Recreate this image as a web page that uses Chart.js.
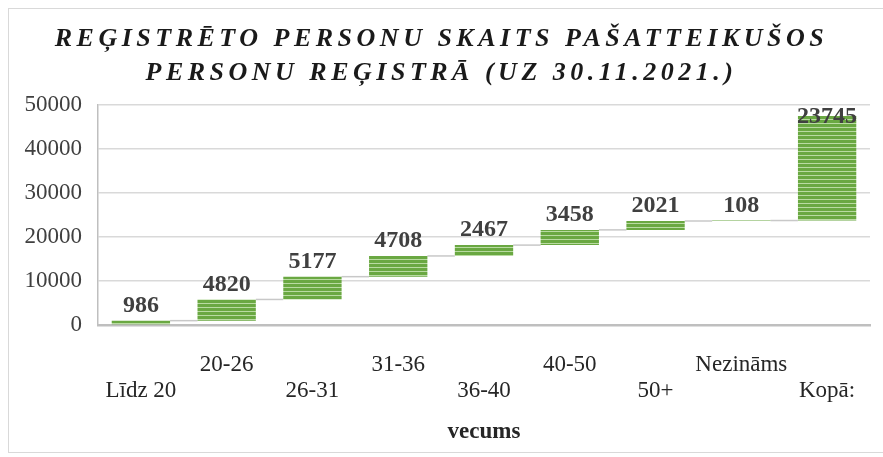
<!DOCTYPE html>
<html>
<head>
<meta charset="utf-8">
<title>Reģistrēto personu skaits</title>
<script src="https://cdn.jsdelivr.net/npm/chart.js"></script>
<style>
  html, body { margin: 0; padding: 0; background: #fff; }
  #wrap { position: relative; width: 883px; height: 457px; overflow: hidden; }
  #frame { position: absolute; left: 8px; top: 8px; width: 880px; height: 443px; border: 1px solid #d9d9d9; }
  #title {
    position: absolute; left: 0; top: 21px; width: 883px; text-align: center;
    font: italic bold 26px "Liberation Serif"; letter-spacing: 4.5px; line-height: 34px; color: #1a1a1a;
  }
  canvas { position: absolute; left: 0; top: 0; }
</style>
</head>
<body>
<div id="wrap">
  <div id="frame"></div>
  <canvas id="chart" width="883" height="457"></canvas>
  <div id="title">REĢISTRĒTO PERSONU SKAITS PAŠATTEIKUŠOS<br>PERSONU REĢISTRĀ (UZ 30.11.2021.)</div>
</div>
<script>
// data
const categories = ['Līdz 20', '20-26', '26-31', '31-36', '36-40', '40-50', '50+', 'Nezināms', 'Kopā:'];
const values = [986, 4820, 5177, 4708, 2467, 3458, 2021, 108, 23745];
// where each bar starts (running total, the last one is stacked on top like in the original)
const starts = [0, 986, 5806, 10983, 15691, 18158, 21616, 23637, 23745];
const yTicks = [0, 10000, 20000, 30000, 40000, 50000];

// striped green fill
function stripes() {
  const c = document.createElement('canvas');
  c.width = 4; c.height = 4;
  const g = c.getContext('2d');
  g.fillStyle = '#6aa842';
  g.fillRect(0, 0, 4, 4);
  g.fillStyle = '#b9dba2';
  g.fillRect(0, 3, 4, 1);
  return g.createPattern(c, 'repeat');
}

// connector lines between bars
const connectors = {
  id: 'connectors',
  beforeDatasetsDraw(chart) {
    const ctx = chart.ctx;
    const y = chart.scales.y;
    const bars = chart.getDatasetMeta(0).data;
    ctx.save();
    ctx.strokeStyle = '#c8c8c8';
    ctx.lineWidth = 1.5;
    for (let i = 0; i < bars.length - 1; i++) {
      const py = y.getPixelForValue(starts[i] + values[i]);
      ctx.beginPath();
      ctx.moveTo(bars[i].x + bars[i].width / 2, py);
      ctx.lineTo(bars[i + 1].x - bars[i + 1].width / 2, py);
      ctx.stroke();
    }
    ctx.restore();
  }
};

// value labels above bars
const valueLabels = {
  id: 'valueLabels',
  afterDatasetsDraw(chart) {
    const ctx = chart.ctx;
    const bars = chart.getDatasetMeta(0).data;
    ctx.save();
    ctx.font = 'bold 24px "Liberation Serif"';
    ctx.fillStyle = '#404040';
    ctx.textAlign = 'center';
    ctx.textBaseline = 'bottom';
    bars.forEach((b, i) => {
      const ty = Math.max(b.y - 3, chart.chartArea.top + 24);
      ctx.fillText(String(values[i]), b.x, ty);
    });
    ctx.restore();
  }
};

Chart.defaults.font.family = '"Liberation Serif"';

new Chart(document.getElementById('chart'), {
  type: 'bar',
  data: {
    labels: categories.map((c, i) => i % 2 ? [c, ''] : ['', c]),
    datasets: [{
      data: categories.map((c, i) => [starts[i], starts[i] + values[i]]),
      backgroundColor: stripes(),
      borderWidth: 0,
      barPercentage: 0.68,
      categoryPercentage: 1
    }]
  },
  options: {
    responsive: false,
    animation: false,
    layout: { padding: { left: 12, right: 13, top: 105, bottom: 11 } },
    plugins: { legend: { display: false }, tooltip: { enabled: false } },
    scales: {
      x: {
        grid: { display: false },
        border: { display: true, color: '#bfbfbf', width: 2.5 },
        ticks: {
          autoSkip: false, maxRotation: 0, padding: 19,
          color: '#262626',
          font: { size: 23, lineHeight: '26px' }
        },
        title: {
          display: true, text: 'vecums', color: '#262626',
          font: { size: 23, weight: 'bold' },
          padding: { top: 0, bottom: 0 }
        },
        afterFit(scale) { scale.height = 121; }
      },
      y: {
        min: 0, max: 50000,
        afterBuildTicks(scale) { scale.ticks = yTicks.map(v => ({ value: v })); },
        grid: { color: '#d9d9d9', lineWidth: 1.5, drawTicks: false },
        border: { display: true, color: '#bfbfbf', width: 1.5 },
        ticks: {
          padding: 16, color: '#404040', font: { size: 23 },
          callback: v => String(v)
        },
        afterFit(scale) { scale.width = 86; }
      }
    }
  },
  plugins: [connectors, valueLabels]
});
</script>
</body>
</html>
